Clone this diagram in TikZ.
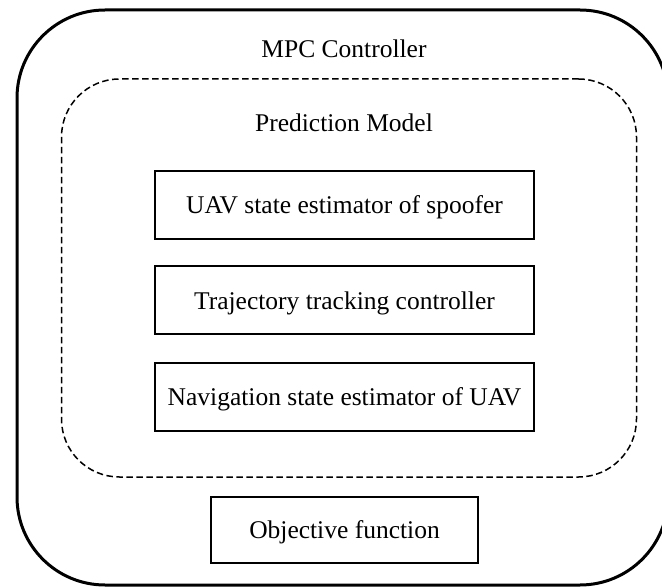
\documentclass[tikz,border=0pt]{standalone}
\usepackage{fontspec}
\setmainfont{Liberation Serif}
\begin{document}
\begin{tikzpicture}[x=1pt,y=-1pt,
  every node/.style={font=\fontsize{25.5}{30}\selectfont, inner sep=0pt},
  outerbox/.style={draw, line width=3pt, rounded corners=88pt},
  dashbox/.style={draw, line width=1.5pt, dash pattern=on 6.5pt off 3.5pt, rounded corners=58pt},
  blockbox/.style={draw, line width=2pt, minimum height=68pt, text depth=0pt}
]
\useasboundingbox (0,0) rectangle (662,588);
\node[outerbox, minimum width=651pt, minimum height=575pt] (mpc) at (342.5,297.5) {};
\node[dashbox, minimum width=575pt, minimum height=398pt] (pm) at (349,278) {};
\node (mpclabel) at (344,49) {MPC Controller};
\node (pmlabel) at (344,123) {Prediction Model};
\node[blockbox, minimum width=379pt] (uav) at (344.5,205) {UAV state estimator of spoofer};
\node[blockbox, minimum width=379pt] (ttc) at (344.5,300.5) {Trajectory tracking controller};
\node[blockbox, minimum width=379pt] (nav) at (344.5,397) {Navigation state estimator of UAV};
\node[blockbox, minimum width=267pt, minimum height=66pt] (obj) at (344.5,530) {Objective function};
\end{tikzpicture}
\end{document}
